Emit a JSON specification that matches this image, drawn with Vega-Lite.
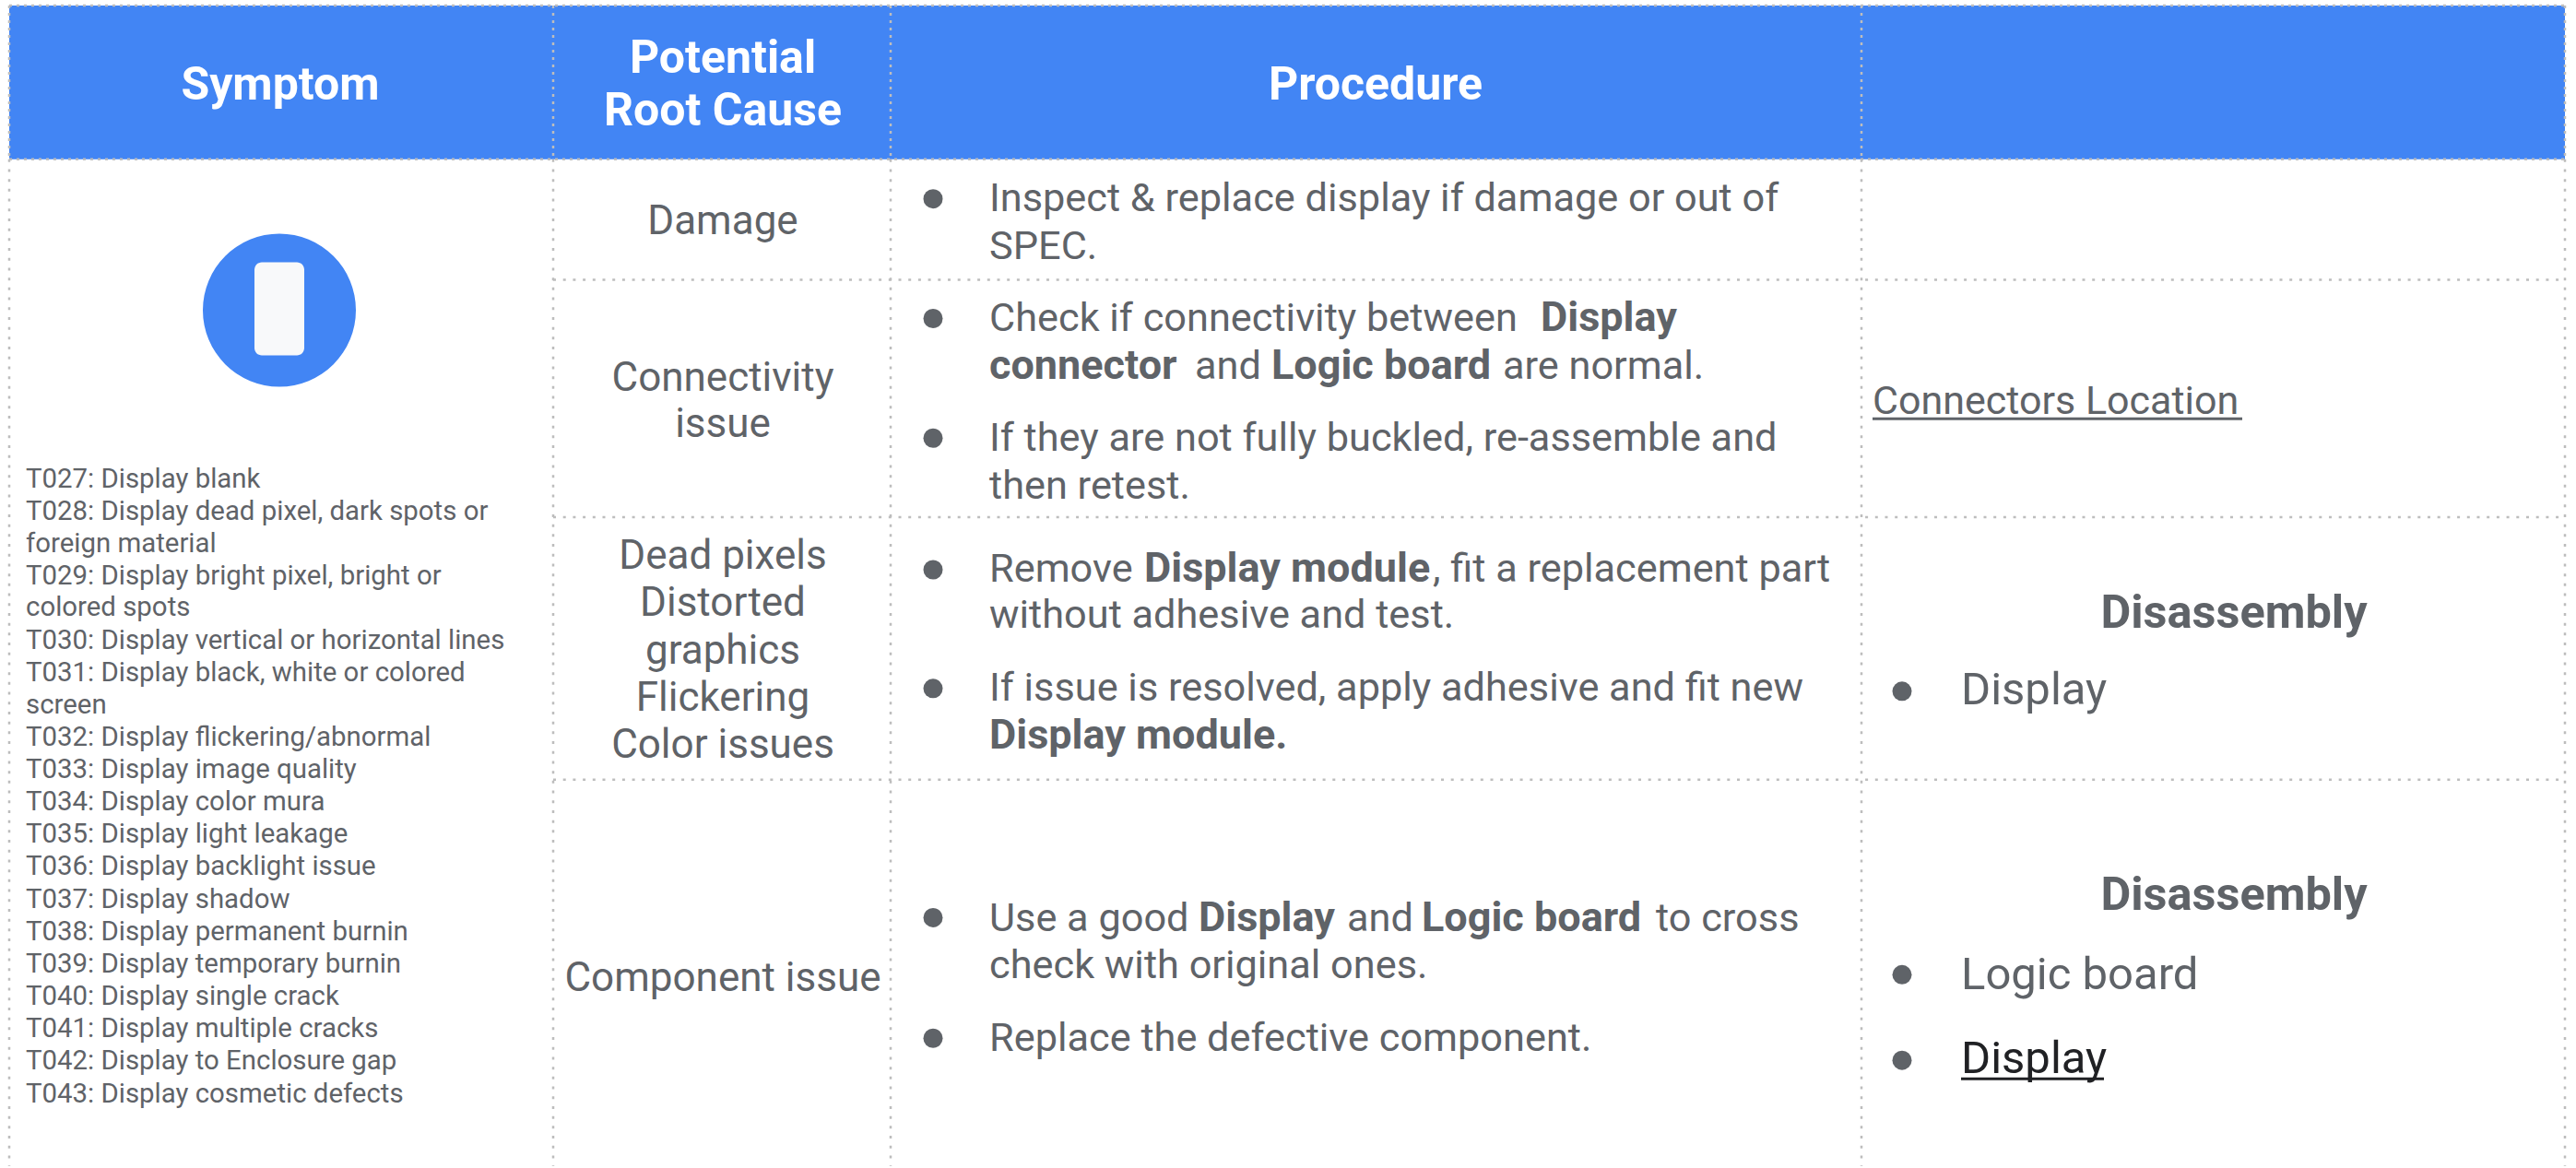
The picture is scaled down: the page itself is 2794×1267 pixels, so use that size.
{
"$schema":"https://vega.github.io/schema/vega-lite/v6.json",
"width":2794,"height":1267,
"autosize":{"type":"fit","contains":"padding"},
"padding":0,
"background":"#ffffff",
"view":{"stroke":null},
"config":{"axis":{"disable":true},"legend":{"disable":true}},
"datasets":{
"banner":[{"x":10,"x2":2782,"y":6,"y2":173}],
"gridDense":[
{"x":10,"x2":10,"y":6,"y2":173},{"x":600,"x2":600,"y":6,"y2":173},{"x":966,"x2":966,"y":6,"y2":173},{"x":2019,"x2":2019,"y":6,"y2":173},{"x":2782,"x2":2782,"y":6,"y2":173},
{"x":10,"x2":2782,"y":6,"y2":6},{"x":10,"x2":2782,"y":173,"y2":173}],
"gridSparse":[
{"x":10,"x2":10,"y":173,"y2":1267},{"x":600,"x2":600,"y":173,"y2":1267},{"x":966,"x2":966,"y":173,"y2":1267},{"x":2019,"x2":2019,"y":173,"y2":1267},{"x":2782,"x2":2782,"y":173,"y2":1267},
{"x":600,"x2":2782,"y":304,"y2":304},{"x":600,"x2":2782,"y":562,"y2":562},{"x":600,"x2":2782,"y":847,"y2":847}],
"header":[
{"t":"Symptom","x":304,"y":107},{"t":"Potential","x":784,"y":78},{"t":"Root Cause","x":784,"y":135},{"t":"Procedure","x":1492,"y":107}],
"cause":[
{"t":"Damage","x":784,"y":253},{"t":"Connectivity","x":784,"y":423},{"t":"issue","x":784,"y":473},
{"t":"Dead pixels","x":784,"y":616},{"t":"Distorted","x":784,"y":668},{"t":"graphics","x":784,"y":720},{"t":"Flickering","x":784,"y":771},{"t":"Color issues","x":784,"y":822},{"t":"Component issue","x":784,"y":1075}],
"symptoms":[
{"t":"T027: Display blank","x":28,"y":528},{"t":"T028: Display dead pixel, dark spots or","x":28,"y":563},{"t":"foreign material","x":28,"y":598},{"t":"T029: Display bright pixel, bright or","x":28,"y":633},{"t":"colored spots","x":28,"y":668},{"t":"T030: Display vertical or horizontal lines","x":28,"y":704},{"t":"T031: Display black, white or colored","x":28,"y":739},{"t":"screen","x":28,"y":774},{"t":"T032: Display flickering/abnormal","x":28,"y":809},{"t":"T033: Display image quality","x":28,"y":844},{"t":"T034: Display color mura","x":28,"y":879},{"t":"T035: Display light leakage","x":28,"y":914},{"t":"T036: Display backlight issue","x":28,"y":949},{"t":"T037: Display shadow","x":28,"y":985},{"t":"T038: Display permanent burnin","x":28,"y":1020},{"t":"T039: Display temporary burnin","x":28,"y":1055},{"t":"T040: Display single crack","x":28,"y":1090},{"t":"T041: Display multiple cracks","x":28,"y":1125},{"t":"T042: Display to Enclosure gap","x":28,"y":1160},{"t":"T043: Display cosmetic defects","x":28,"y":1196}],
"procedure":[
{"t":"Inspect & replace display if damage or out of","x":1073,"y":228},{"t":"SPEC.","x":1073,"y":280},
{"t":"Check if connectivity between","x":1073,"y":358},{"t":"and","x":1296,"y":410},{"t":"are normal.","x":1630,"y":410},
{"t":"If they are not fully buckled, re-assemble and","x":1073,"y":488},{"t":"then retest.","x":1073,"y":540},
{"t":"Remove","x":1073,"y":630},{"t":", fit a replacement part","x":1554,"y":630},{"t":"without adhesive and test.","x":1073,"y":681},
{"t":"If issue is resolved, apply adhesive and fit new","x":1073,"y":760},
{"t":"Use a good","x":1073,"y":1010},{"t":"and","x":1461,"y":1010},{"t":"to cross","x":1796,"y":1010},{"t":"check with original ones.","x":1073,"y":1061},
{"t":"Replace the defective component.","x":1073,"y":1140}],
"procedureBold":[
{"t":"Display","x":1671,"y":358},{"t":"connector","x":1073,"y":410},{"t":"Logic board","x":1379,"y":410},
{"t":"Display module","x":1241,"y":630},{"t":"Display module.","x":1073,"y":812},
{"t":"Display","x":1300,"y":1010},{"t":"Logic board","x":1542,"y":1010}],
"bullets":[
{"x":1012,"y":216},{"x":1012,"y":346},{"x":1012,"y":476},{"x":1012,"y":619},{"x":1012,"y":748},{"x":1012,"y":997},{"x":1012,"y":1128},
{"x":2063,"y":751},{"x":2063,"y":1059},{"x":2063,"y":1152}],
"disassembly":[{"t":"Disassembly","x":2423,"y":681},{"t":"Disassembly","x":2423,"y":987}],
"links":[{"t":"Display","x":2127,"y":764,"c":"grey"},{"t":"Logic board","x":2127,"y":1073,"c":"grey"},{"t":"Display","x":2127,"y":1164,"c":"dark"}],
"location":[{"t":"Connectors Location","x":2031,"y":448}],
"underlines":[{"x":2031,"x2":2432,"y":455,"y2":455,"c":"grey"},{"x":2127,"x2":2282,"y":1172,"y2":1172,"c":"dark"}],
"badge":[{"x":303,"y":337}],
"phone":[{"x":276,"x2":330,"y":285,"y2":386}]
},
"encoding":{
"x":{"field":"x","type":"quantitative","scale":{"domain":[0,2794],"nice":false,"zero":false},"axis":null},
"y":{"field":"y","type":"quantitative","scale":{"domain":[0,1267],"reverse":true,"nice":false,"zero":false},"axis":null}
},
"layer":[
{"data":{"name":"banner"},"mark":{"type":"rect","fill":"#4285f4"},"encoding":{"x2":{"field":"x2"},"y2":{"field":"y2"}}},
{"data":{"name":"gridDense"},"mark":{"type":"rule","stroke":"#bdbdbd","strokeWidth":2.5,"strokeDash":[3,5]},"encoding":{"x2":{"field":"x2"},"y2":{"field":"y2"}}},
{"data":{"name":"gridSparse"},"mark":{"type":"rule","stroke":"#bdbdbd","strokeWidth":2.5,"strokeDash":[3,7.7]},"encoding":{"x2":{"field":"x2"},"y2":{"field":"y2"}}},
{"data":{"name":"badge"},"mark":{"type":"point","shape":"circle","filled":true,"fill":"#4285f4","opacity":1,"size":27556}},
{"data":{"name":"phone"},"mark":{"type":"rect","fill":"#f8f9fa","cornerRadius":8},"encoding":{"x2":{"field":"x2"},"y2":{"field":"y2"}}},
{"data":{"name":"bullets"},"mark":{"type":"point","shape":"circle","filled":true,"fill":"#5f6368","opacity":1,"size":441}},
{"data":{"name":"underlines"},"mark":{"type":"rule","strokeWidth":3},"encoding":{"x2":{"field":"x2"},"y2":{"field":"y2"},"color":{"field":"c","type":"nominal","scale":{"domain":["grey","dark"],"range":["#5f6368","#202124"]},"legend":null}}},
{"data":{"name":"header"},"mark":{"type":"text","align":"center","baseline":"alphabetic","dy":1.5,"font":"Roboto","fontWeight":"bold","fontSize":50,"fill":"#ffffff"},"encoding":{"text":{"field":"t"}}},
{"data":{"name":"cause"},"mark":{"type":"text","align":"center","baseline":"alphabetic","dy":1.5,"font":"Roboto","fontSize":44,"fill":"#5f6368"},"encoding":{"text":{"field":"t"}}},
{"data":{"name":"symptoms"},"mark":{"type":"text","align":"left","baseline":"alphabetic","dy":1.5,"font":"Roboto","fontSize":29.4,"fill":"#5f6368"},"encoding":{"text":{"field":"t"}}},
{"data":{"name":"procedure"},"mark":{"type":"text","align":"left","baseline":"alphabetic","dy":1.5,"font":"Roboto","fontSize":43.3,"fill":"#5f6368"},"encoding":{"text":{"field":"t"}}},
{"data":{"name":"procedureBold"},"mark":{"type":"text","align":"left","baseline":"alphabetic","dy":1.5,"font":"Roboto","fontWeight":"bold","fontSize":45,"fill":"#5f6368"},"encoding":{"text":{"field":"t"}}},
{"data":{"name":"disassembly"},"mark":{"type":"text","align":"center","baseline":"alphabetic","dy":1.5,"font":"Roboto","fontWeight":"bold","fontSize":50.5,"fill":"#5f6368"},"encoding":{"text":{"field":"t"}}},
{"data":{"name":"links"},"mark":{"type":"text","align":"left","baseline":"alphabetic","dy":1.5,"font":"Roboto","fontSize":49},"encoding":{"text":{"field":"t"},"color":{"field":"c","type":"nominal","scale":{"domain":["grey","dark"],"range":["#5f6368","#202124"]},"legend":null}}},
{"data":{"name":"location"},"mark":{"type":"text","align":"left","baseline":"alphabetic","dy":1.5,"font":"Roboto","fontSize":43,"fill":"#5f6368"},"encoding":{"text":{"field":"t"}}}
]
}
